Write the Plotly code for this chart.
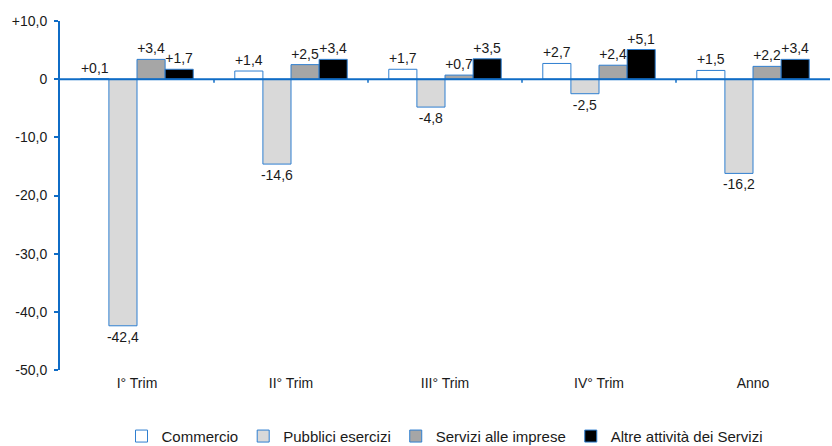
import plotly.graph_objects as go

categories = ["I° Trim", "II° Trim", "III° Trim", "IV° Trim", "Anno"]
commercio = [0.1, 1.4, 1.7, 2.7, 1.5]
pubblici = [-42.4, -14.6, -4.8, -2.5, -16.2]
servizi_imprese = [3.4, 2.5, 0.7, 2.4, 2.2]
altre = [1.7, 3.4, 3.5, 5.1, 3.4]

series_names = ["Commercio", "Pubblici esercizi", "Servizi alle imprese", "Altre attività dei Servizi"]
series_values = [commercio, pubblici, servizi_imprese, altre]
series_colors = ["#FFFFFF", "#D9D9D9", "#A6A6A6", "#000000"]

y_tickvals = [10, 0, -10, -20, -30, -40, -50]
y_ticktext = ["+10,0", "0", "-10,0", "-20,0", "-30,0", "-40,0", "-50,0"]

BLUE = "#0F6CC6"
BAR_EDGE = "#2F7FD0"
FONT = "Liberation Sans, Arial, sans-serif"
TXT = "#1a1a1a"


def fmt(v):
    return f"{v:+.1f}".replace(".", ",")


fig = go.Figure()
for name, vals, col in zip(series_names, series_values, series_colors):
    fig.add_trace(go.Bar(
        name=name, x=categories, y=vals,
        marker=dict(color=col, line=dict(color=BAR_EDGE, width=1)),
        text=[fmt(v) for v in vals], textposition="outside",
        constraintext="none",
        textfont=dict(family=FONT, size=14, color=TXT),
        cliponaxis=False,
    ))

shapes = [dict(type="line", xref="paper", yref="y", x0=0, x1=1, y0=0, y1=0,
               line=dict(color=BLUE, width=2), layer="above")]
for i in range(len(categories) - 1):
    shapes.append(dict(type="line", xref="x", yref="y", x0=i + 0.5, x1=i + 0.5,
                       y0=0, y1=-0.6, line=dict(color=BLUE, width=1.5), layer="above"))

fig.update_layout(
    width=832, height=446,
    margin=dict(l=60, r=2, t=21, b=76, autoexpand=False),
    paper_bgcolor="white", plot_bgcolor="white",
    barmode="group", bargap=0.27, bargroupgap=0,
    font=dict(family=FONT, size=14, color=TXT),
    showlegend=True,
    legend=dict(orientation="h", x=0.5, xanchor="center", y=-0.19, yanchor="middle",
                font=dict(family=FONT, size=15, color=TXT), tracegroupgap=0),
    shapes=shapes,
)
fig.update_xaxes(showline=False, showgrid=False, zeroline=False, ticks="",
                 ticklabelstandoff=3,
                 tickfont=dict(family=FONT, size=14, color=TXT))
fig.update_yaxes(range=[-50, 10], tickvals=y_tickvals, ticktext=y_ticktext,
                 showgrid=False, zeroline=False, showline=True, linecolor=BLUE, linewidth=2,
                 ticks="outside", ticklen=4, tickcolor=BLUE, tickwidth=2,
                 ticklabelstandoff=4,
                 tickfont=dict(family=FONT, size=14, color=TXT))

fig.write_html("out.html", config={"displayModeBar": False},
               post_script="document.body.style.margin='0';document.body.style.overflow='hidden';")
